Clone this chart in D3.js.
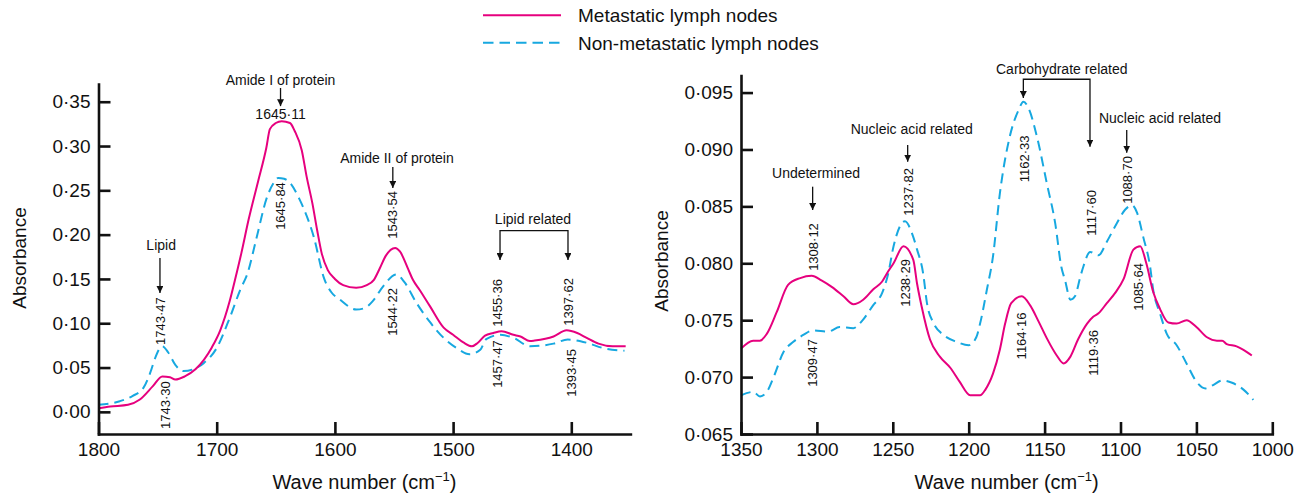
<!DOCTYPE html>
<html>
<head>
<meta charset="utf-8">
<script src="https://cdn.jsdelivr.net/npm/d3@7"></script>
<style>
body{margin:0;background:#fff;}
svg{display:block;font-family:"Liberation Sans",Arial,Helvetica,sans-serif;}
</style>
</head>
<body>
<svg id="chart" width="1306" height="495"></svg>
<script>
// ---- data (wave number, absorbance) ----
const seriesNames = ["Metastatic lymph nodes", "Non-metastatic lymph nodes"];

const leftMetastatic = [
  [1800,0.004],[1790,0.006],[1775,0.008],[1765,0.014],[1754,0.029],[1746,0.040],[1739.5,0.039],
  [1735,0.0365],[1727,0.040],[1718,0.048],[1704,0.073],[1697,0.092],[1689,0.125],[1684.5,0.149],
  [1679,0.180],[1673,0.217],[1665,0.260],[1658,0.298],[1655,0.319],[1650,0.326],[1645,0.328],
  [1638,0.326],[1634,0.317],[1628,0.295],[1624,0.266],[1619,0.235],[1615,0.205],[1611,0.178],
  [1606,0.160],[1600,0.150],[1593,0.143],[1582,0.140],[1573,0.143],[1567,0.149],[1562,0.162],
  [1557,0.176],[1549,0.185],[1545,0.181],[1538,0.161],[1534,0.149],[1528,0.137],[1519.5,0.119],
  [1508,0.095],[1500,0.087],[1491,0.078],[1484,0.074],[1479,0.078],[1473,0.086],[1466,0.089],
  [1459,0.091],[1449,0.087],[1443,0.085],[1435,0.080],[1431,0.0805],[1415,0.085],[1404,0.092],
  [1395,0.089],[1387,0.0835],[1377,0.077],[1365,0.074],[1354,0.074]
];
const leftNonMetastatic = [
  [1800,0.008],[1782,0.012],[1771,0.018],[1762,0.027],[1756,0.045],[1752,0.061],[1746,0.074],
  [1741,0.067],[1735,0.053],[1728,0.046],[1720,0.048],[1711,0.055],[1700,0.072],[1689,0.106],
  [1680,0.138],[1674,0.156],[1666,0.198],[1658,0.240],[1652,0.258],[1648,0.264],[1643,0.263],
  [1639,0.260],[1630,0.240],[1618,0.198],[1609,0.150],[1603,0.135],[1596,0.127],[1582,0.1155],
  [1575,0.117],[1568,0.125],[1559,0.142],[1548,0.155],[1541,0.146],[1531,0.123],[1520,0.102],
  [1508,0.0835],[1497,0.072],[1486,0.065],[1477,0.070],[1472,0.082],[1460,0.087],[1449,0.0835],
  [1435,0.074],[1415,0.077],[1403,0.0816],[1387,0.078],[1373,0.072],[1355,0.069]
];
const rightMetastatic = [
  [1350,0.0725],[1342,0.0732],[1337.5,0.0732],[1333,0.0738],[1326.5,0.0757],[1319,0.0781],
  [1311,0.0787],[1303.5,0.0789],[1297,0.0785],[1290,0.0779],[1282.5,0.0771],[1276,0.0764],
  [1269.5,0.0768],[1263,0.0777],[1257,0.0784],[1253,0.0793],[1249.5,0.0800],[1243,0.0815],
  [1236.5,0.0803],[1234,0.0782],[1231,0.0762],[1225.5,0.0733],[1219,0.0718],[1212,0.0708],
  [1206,0.0696],[1199,0.0684],[1192.5,0.0684],[1189,0.0689],[1184,0.0703],[1179.5,0.0724],
  [1176,0.0747],[1172,0.0765],[1165,0.0771],[1159.5,0.0763],[1154,0.0749],[1148.5,0.0734],
  [1142,0.0719],[1137.5,0.0712],[1133,0.0718],[1128,0.0733],[1122,0.0747],[1118,0.0753],
  [1114.5,0.0756],[1109,0.0765],[1103.5,0.0774],[1098,0.0786],[1091.5,0.0812],[1087,0.0815],
  [1083,0.0800],[1078.5,0.0775],[1074,0.0760],[1068.5,0.0748],[1063,0.0747],[1056.5,0.0750],
  [1050,0.0744],[1043,0.0735],[1036.5,0.0732],[1033,0.0732],[1030,0.0729],[1023.5,0.0727],
  [1019,0.0724],[1013.5,0.0719]
];
const rightNonMetastatic = [
  [1350,0.0684],[1342,0.0687],[1337.5,0.0683],[1333,0.0687],[1328.5,0.0700],[1322,0.0722],
  [1315.5,0.0731],[1309,0.0737],[1302.5,0.0741],[1292.5,0.0740],[1285,0.0744],[1276,0.0743],
  [1270.5,0.0749],[1263,0.0763],[1257,0.0774],[1253,0.0791],[1249.5,0.0815],[1242,0.0837],
  [1237,0.0825],[1234,0.0812],[1230,0.0791],[1227.5,0.0765],[1223,0.0747],[1216.5,0.0737],
  [1208,0.0731],[1200,0.0728],[1195,0.0735],[1192.5,0.0747],[1188,0.0777],[1184,0.0806],
  [1179.5,0.0861],[1173,0.0911],[1167,0.0935],[1164,0.0942],[1160.5,0.0936],[1155,0.0911],
  [1148.5,0.0870],[1143,0.0835],[1139,0.0797],[1136.5,0.0785],[1133,0.0768],[1130,0.0771],
  [1126.5,0.0788],[1124.5,0.0797],[1120,0.0810],[1114.5,0.0807],[1109,0.0819],[1102.5,0.0835],
  [1097,0.0847],[1092.5,0.0851],[1089,0.0844],[1085,0.0823],[1080.5,0.0797],[1078.5,0.0777],
  [1074,0.0756],[1069.5,0.0738],[1063,0.0728],[1056.5,0.0712],[1050,0.0696],[1044,0.0690],
  [1039,0.0693],[1033,0.0697],[1026.5,0.0695],[1019,0.0689],[1012.5,0.0680]
];

const leftXTicks = [1800, 1700, 1600, 1500, 1400];
const leftYTicks = [0, 0.05, 0.10, 0.15, 0.20, 0.25, 0.30, 0.35];
const rightXTicks = [1350, 1300, 1250, 1200, 1150, 1100, 1050, 1000];
const rightYTicks = [0.065, 0.070, 0.075, 0.080, 0.085, 0.090, 0.095];

// peak annotations (placed in data units)
const leftNotes = [
  {type:"text", text:"Amide I of protein", w:1646, v:0.3745},
  {type:"arrow", w:1646, v1:0.3655, v2:0.345},
  {type:"text", text:"1645·11", w:1646, v:0.336},
  {type:"vtext", text:"1645·84", w:1646, v:0.2323},
  {type:"text", text:"Lipid", w:1747, v:0.1883},
  {type:"arrow", w:1748, v1:0.1737, v2:0.1342},
  {type:"vtext", text:"1743·47", w:1748, v:0.1025},
  {type:"vtext", text:"1743·30", w:1743.7, v:0.0077},
  {type:"text", text:"Amide II of protein", w:1547.5, v:0.2865},
  {type:"arrow", w:1551, v1:0.2763, v2:0.2527},
  {type:"vtext", text:"1543·54", w:1551, v:0.2222},
  {type:"vtext", text:"1544·22", w:1551, v:0.1127},
  {type:"text", text:"Lipid related", w:1432.4, v:0.2177},
  {type:"bracket", w1:1460.3, w2:1402.8, top:0.2045, v1:0.1714, v2:0.1714},
  {type:"vtext", text:"1455·36", w:1462.9, v:0.1229},
  {type:"vtext", text:"1457·47", w:1462.9, v:0.054},
  {type:"vtext", text:"1397·62", w:1402.8, v:0.124},
  {type:"vtext", text:"1393·45", w:1399.7, v:0.0439}
];
const rightNotes = [
  {type:"text", text:"Undetermined", w:1300.6, v:0.0879},
  {type:"arrow", w:1302.8, v1:0.08673, v2:0.08468},
  {type:"vtext", text:"1308·12", w:1302.6, v:0.08143},
  {type:"vtext", text:"1309·47", w:1302.8, v:0.07124},
  {type:"text", text:"Nucleic acid related", w:1237.5, v:0.0918},
  {type:"arrow", w:1240.2, v1:0.0904, v2:0.08893},
  {type:"vtext", text:"1237·82", w:1240, v:0.08627},
  {type:"vtext", text:"1238·29", w:1242, v:0.07827},
  {type:"text", text:"Carbohydrate related", w:1138.7, v:0.09707},
  {type:"bracket", w1:1164.0, w2:1120.1, top:0.09617, v1:0.09453, v2:0.09025},
  {type:"vtext", text:"1162·33", w:1163.4, v:0.08917},
  {type:"vtext", text:"1117·60", w:1119, v:0.08442},
  {type:"text", text:"Nucleic acid related", w:1074, v:0.09277},
  {type:"arrow", w:1095.9, v1:0.09171, v2:0.08972},
  {type:"vtext", text:"1088·70", w:1095.7, v:0.08732},
  {type:"vtext", text:"1164·16", w:1165.5, v:0.07361},
  {type:"vtext", text:"1119·36", w:1117.9, v:0.07212},
  {type:"vtext", text:"1085·64", w:1088.3, v:0.07792}
];

const metColor = "#e6007e", nonColor = "#17a8e0";

let svg = d3.select("#chart");
svg.append("rect").attr("width", 1306).attr("height", 495).attr("fill", "#fff");

svg.append("defs").append("marker")
  .attr("id", "arrow")
  .attr("viewBox", "0 0 10 10")
  .attr("refX", 10).attr("refY", 5)
  .attr("markerWidth", 7).attr("markerHeight", 7)
  .attr("markerUnits", "userSpaceOnUse")
  .attr("orient", "auto-start-reverse")
  .append("path").attr("d", "M0,0L10,5L0,10z").attr("fill", "#111");

// legend
let legend = svg.append("g");
[[metColor, null], [nonColor, "10.5,6"]].forEach(function(s, i){
  let y = 15.3 + i * 27.4;
  legend.append("line")
    .attr("x1", 483).attr("x2", 561).attr("y1", y).attr("y2", y)
    .attr("stroke", s[0]).attr("stroke-width", 2)
    .attr("stroke-dasharray", s[1]);
  legend.append("text")
    .attr("x", 578).attr("y", y).attr("dy", "0.36em")
    .attr("font-size", 19).attr("fill", "#111")
    .text(seriesNames[i]);
});

function fmt(spec){
  let f = d3.format(spec);
  return d => f(d).replace(".", "·");
}

function drawPanel(p){
  let x = d3.scaleLinear().domain(p.xDomain).range(p.xRange);
  let y = d3.scaleLinear().domain(p.yDomain).range([434, p.yTop]);
  let g = svg.append("g");

  let line = d3.line().x(d => x(d[0])).y(d => y(d[1])).curve(d3.curveMonotoneX);
  g.append("path").datum(p.non)
    .attr("d", line).attr("fill", "none")
    .attr("stroke", nonColor).attr("stroke-width", 2)
    .attr("stroke-dasharray", "10,6");
  g.append("path").datum(p.met)
    .attr("d", line).attr("fill", "none")
    .attr("stroke", metColor).attr("stroke-width", 2);

  // axes, ticks point inward
  let xAxis = g.append("g").attr("transform", "translate(0,434)")
    .call(d3.axisBottom(x).tickValues(p.xTicks).tickFormat(d3.format("d"))
      .tickSizeInner(-12).tickSizeOuter(0).tickPadding(9));
  let yAxis = g.append("g").attr("transform", "translate(" + p.xRange[0] + ",0)")
    .call(d3.axisLeft(y).tickValues(p.yTicks).tickFormat(fmt(p.yFormat))
      .tickSizeInner(-12).tickSizeOuter(0).tickPadding(8));
  [xAxis, yAxis].forEach(function(a){
    a.select(".domain").attr("stroke", "#111").attr("stroke-width", 2.6).attr("stroke-linecap", "square");
    a.selectAll(".tick line").attr("stroke", "#111").attr("stroke-width", 2.6);
    a.selectAll(".tick text").attr("font-size", 19).attr("fill", "#111")
      .attr("font-family", "Liberation Sans, Arial, sans-serif");
  });

  // axis titles
  g.append("text")
    .attr("transform", "translate(" + (p.xRange[0] - 73) + "," + p.yLabelY + ") rotate(-90)")
    .attr("text-anchor", "middle").attr("font-size", 19).attr("fill", "#111")
    .text("Absorbance");
  let xl = g.append("text")
    .attr("x", (p.xRange[0] + p.xRange[1]) / 2).attr("y", 489)
    .attr("text-anchor", "middle").attr("font-size", 20).attr("fill", "#111");
  xl.append("tspan").text("Wave number (cm");
  xl.append("tspan").attr("font-size", 13).attr("dy", -8).text("−1");
  xl.append("tspan").attr("dy", 8).text(")");

  // annotations
  let notes = g.append("g").attr("fill", "#111");
  p.notes.forEach(function(n){
    if(n.type == "text"){
      notes.append("text")
        .attr("x", x(n.w)).attr("y", y(n.v)).attr("dy", "0.35em")
        .attr("text-anchor", "middle").attr("font-size", 14)
        .text(n.text);
    }
    else if(n.type == "vtext"){
      notes.append("text")
        .attr("transform", "translate(" + x(n.w) + "," + y(n.v) + ") rotate(-90)")
        .attr("dy", "0.35em")
        .attr("text-anchor", "middle").attr("font-size", 13)
        .text(n.text);
    }
    else if(n.type == "arrow"){
      notes.append("path")
        .attr("d", "M" + x(n.w) + "," + y(n.v1) + "V" + y(n.v2))
        .attr("stroke", "#111").attr("stroke-width", 1.3).attr("fill", "none")
        .attr("marker-end", "url(#arrow)");
    }
    else if(n.type == "bracket"){
      notes.append("path")
        .attr("d", "M" + x(n.w1) + "," + y(n.v1) + "V" + y(n.top) + "H" + x(n.w2) + "V" + y(n.v2))
        .attr("stroke", "#111").attr("stroke-width", 1.3).attr("fill", "none")
        .attr("marker-start", "url(#arrow)").attr("marker-end", "url(#arrow)");
    }
  });
}

drawPanel({
  met: leftMetastatic, non: leftNonMetastatic,
  xDomain: [1800, 1350], xRange: [98.5, 630.4],
  yDomain: [-0.025, 0.37], yTop: 84,
  xTicks: leftXTicks, yTicks: leftYTicks, yFormat: ".2f",
  yLabelY: 258, notes: leftNotes
});
drawPanel({
  met: rightMetastatic, non: rightNonMetastatic,
  xDomain: [1350, 1000], xRange: [741, 1272.3],
  yDomain: [0.065, 0.0965], yTop: 75.5,
  xTicks: rightXTicks, yTicks: rightYTicks, yFormat: ".3f",
  yLabelY: 261, notes: rightNotes
});
</script>
</body>
</html>
